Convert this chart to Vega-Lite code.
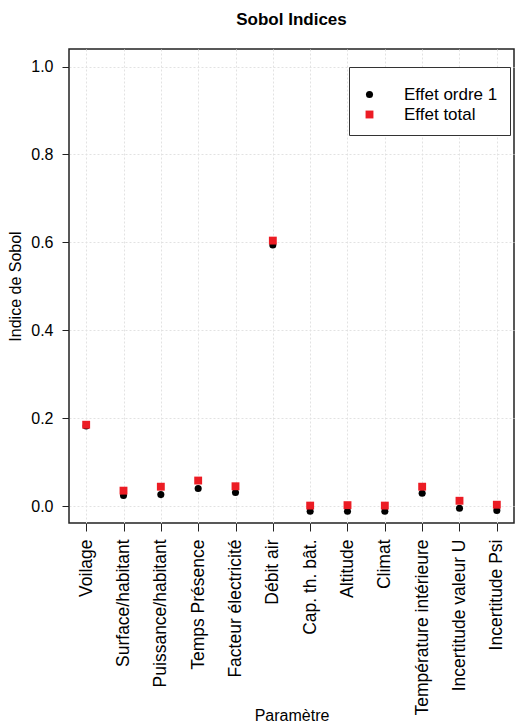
{
  "$schema": "https://vega.github.io/schema/vega-lite/v6.json",
  "autosize": "none",
  "padding": {"left": 69, "top": 49, "right": 1, "bottom": 202},
  "width": 445,
  "height": 474,
  "background": "white",
  "config": {
    "font": "Liberation Sans",
    "view": {"stroke": "#222222", "strokeWidth": 1.5}
  },
  "title": {
    "text": "Sobol Indices",
    "fontSize": 17,
    "fontWeight": "bold",
    "color": "black",
    "anchor": "middle",
    "baseline": "alphabetic",
    "offset": 7
  },
  "data": {
    "values": [
      {"param": "Voilage", "type": "Effet ordre 1", "value": 0.182},
      {"param": "Surface/habitant", "type": "Effet ordre 1", "value": 0.024},
      {"param": "Puissance/habitant", "type": "Effet ordre 1", "value": 0.026},
      {"param": "Temps Présence", "type": "Effet ordre 1", "value": 0.040},
      {"param": "Facteur électricité", "type": "Effet ordre 1", "value": 0.031},
      {"param": "Débit air", "type": "Effet ordre 1", "value": 0.594},
      {"param": "Cap. th. bât.", "type": "Effet ordre 1", "value": -0.012},
      {"param": "Altitude", "type": "Effet ordre 1", "value": -0.012},
      {"param": "Climat", "type": "Effet ordre 1", "value": -0.012},
      {"param": "Température intérieure", "type": "Effet ordre 1", "value": 0.029},
      {"param": "Incertitude valeur U", "type": "Effet ordre 1", "value": -0.005},
      {"param": "Incertitude Psi", "type": "Effet ordre 1", "value": -0.010},
      {"param": "Voilage", "type": "Effet total", "value": 0.185},
      {"param": "Surface/habitant", "type": "Effet total", "value": 0.035},
      {"param": "Puissance/habitant", "type": "Effet total", "value": 0.044},
      {"param": "Temps Présence", "type": "Effet total", "value": 0.058},
      {"param": "Facteur électricité", "type": "Effet total", "value": 0.045},
      {"param": "Débit air", "type": "Effet total", "value": 0.604},
      {"param": "Cap. th. bât.", "type": "Effet total", "value": 0.001},
      {"param": "Altitude", "type": "Effet total", "value": 0.002},
      {"param": "Climat", "type": "Effet total", "value": 0.001},
      {"param": "Température intérieure", "type": "Effet total", "value": 0.044},
      {"param": "Incertitude valeur U", "type": "Effet total", "value": 0.012},
      {"param": "Incertitude Psi", "type": "Effet total", "value": 0.003}
    ]
  },
  "mark": {"type": "point", "filled": true, "opacity": 1},
  "encoding": {
    "x": {
      "field": "param",
      "type": "nominal",
      "sort": null,
      "scale": {"type": "point", "padding": 0.46},
      "axis": {
        "title": "Paramètre",
        "titleFontSize": 16,
        "titleFontWeight": "normal",
        "titleColor": "black",
        "titleY": 197,
        "titleBaseline": "alphabetic",
        "labelAngle": -90,
        "labelFontSize": 17.5,
        "labelColor": "black",
        "labelPadding": 8,
        "labelLimit": 300,
        "tickSize": 8,
        "tickColor": "#222222",
        "domain": false,
        "grid": true,
        "gridColor": "#e2e2e2",
        "gridDash": [2, 2]
      }
    },
    "y": {
      "field": "value",
      "type": "quantitative",
      "scale": {"domain": [-0.0386, 1.04], "nice": false, "zero": false},
      "axis": {
        "title": "Indice de Sobol",
        "titleFontSize": 16,
        "titleFontWeight": "normal",
        "titleColor": "black",
        "titlePadding": 7,
        "values": [0, 0.2, 0.4, 0.6, 0.8, 1.0],
        "format": ".1f",
        "labelFontSize": 16,
        "labelColor": "black",
        "labelPadding": 9,
        "tickSize": 7,
        "tickColor": "#222222",
        "domain": false,
        "grid": true,
        "gridColor": "#e2e2e2",
        "gridDash": [2, 2]
      }
    },
    "color": {
      "field": "type",
      "type": "nominal",
      "scale": {"domain": ["Effet ordre 1", "Effet total"], "range": ["#000000", "#ec1c24"]},
      "legend": {
        "title": " ",
        "titleFontSize": 4,
        "titlePadding": 3,
        "orient": "none",
        "legendX": 280,
        "legendY": 18,
        "padding": 12,
        "fillColor": "white",
        "strokeColor": "#333333",
        "labelFontSize": 17,
        "labelColor": "black",
        "labelOffset": 26,
        "rowPadding": 2,
        "symbolStrokeWidth": 0
      }
    },
    "shape": {
      "field": "type",
      "type": "nominal",
      "scale": {"domain": ["Effet ordre 1", "Effet total"], "range": ["circle", "square"]}
    },
    "size": {
      "field": "type",
      "type": "nominal",
      "scale": {"domain": ["Effet ordre 1", "Effet total"], "range": [50, 62]}
    }
  }
}
